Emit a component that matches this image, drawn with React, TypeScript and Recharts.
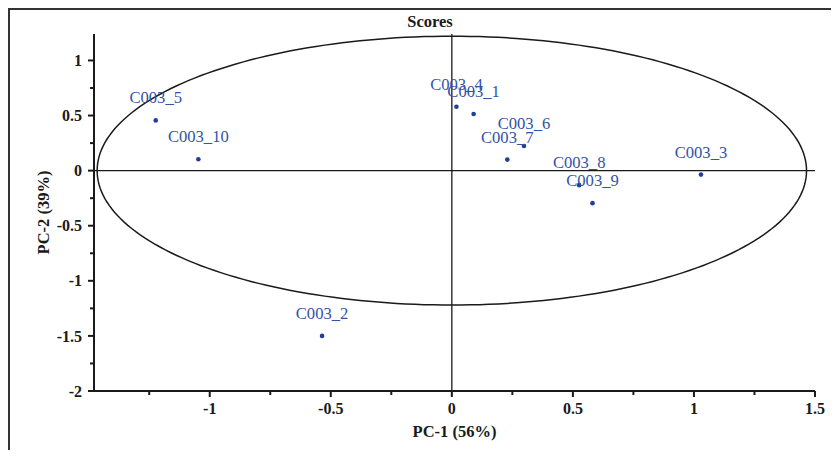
import React from 'react';
import { ScatterChart, Scatter, XAxis, YAxis, ReferenceLine, Customized } from 'recharts';

// PCA scores for each sample
const sampleNames = ['C003_1', 'C003_2', 'C003_3', 'C003_4', 'C003_5', 'C003_6', 'C003_7', 'C003_8', 'C003_9', 'C003_10'];
const pc1Scores = [0.09, -0.536, 1.029, 0.019, -1.223, 0.298, 0.229, 0.526, 0.581, -1.047];
const pc2Scores = [0.514, -1.5, -0.036, 0.58, 0.456, 0.224, 0.1, -0.132, -0.295, 0.103];

// Hotelling ellipse (centre and semi-axes in score units)
const ellipseCenter = [0, 0];
const ellipseRadii = [1.465, 1.22];

const xMajorTicks = [-1, -0.5, 0, 0.5, 1, 1.5];
const xMinorTicks = [-1.25, -0.75, -0.25, 0.25, 0.75, 1.25];
const yMajorTicks = [-2, -1.5, -1, -0.5, 0, 0.5, 1];
const yMinorTicks = [-1.75, -1.25, -0.75, -0.25, 0.25, 0.75];

const X_DOMAIN = [-1.478, 1.5];
const Y_DOMAIN = [-2, 1.24];

const FONT = "'Liberation Serif', 'Times New Roman', serif";
const INK = '#1a1a1a';
const DOT = '#1f3f9a';
const LABEL = '#3352a8';

const scores = sampleNames.map((name, i) => ({ name, x: pc1Scores[i], y: pc2Scores[i] }));

const ellipseOutline = Array.from({ length: 241 }, (_, i) => {
  const t = (i / 240) * 2 * Math.PI;
  return {
    x: ellipseCenter[0] + ellipseRadii[0] * Math.cos(t),
    y: ellipseCenter[1] + ellipseRadii[1] * Math.sin(t),
  };
});

const xTicks = [...xMajorTicks, ...xMinorTicks].sort((a, b) => a - b);
const yTicks = [...yMajorTicks, ...yMinorTicks].sort((a, b) => a - b);

const TICK_OFFSET = 12; // tickSize + tickMargin

const XTick = (props: any) => {
  const { x, y, payload } = props;
  const major = xMajorTicks.includes(payload.value);
  const axisY = y - TICK_OFFSET;
  return (
    <g>
      <line x1={x} x2={x} y1={axisY} y2={axisY + (major ? 6 : 4)} stroke={INK} strokeWidth={2} />
      {major && (
        <text x={x} y={y} dy="0.71em" textAnchor="middle" fontFamily={FONT} fontWeight="bold" fontSize={16} fill={INK}>
          {String(payload.value)}
        </text>
      )}
    </g>
  );
};

const YTick = (props: any) => {
  const { x, y, payload } = props;
  const major = yMajorTicks.includes(payload.value);
  const axisX = x + TICK_OFFSET;
  return (
    <g>
      <line x1={axisX} x2={axisX - (major ? 6 : 4)} y1={y} y2={y} stroke={INK} strokeWidth={2} />
      {major && (
        <text x={x} y={y} dy="0.355em" textAnchor="end" fontFamily={FONT} fontWeight="bold" fontSize={16} fill={INK}>
          {String(payload.value)}
        </text>
      )}
    </g>
  );
};

const SampleDot = (props: any) => {
  const { cx, cy, payload } = props;
  return (
    <g>
      <circle cx={cx} cy={cy} r={2.3} fill={DOT} />
      <text x={cx} y={cy - 17} textAnchor="middle" fontFamily={FONT} fontSize={16.6} fill={LABEL}>
        {payload.name}
      </text>
    </g>
  );
};

const Title = () => (
  <text x={420} y={16.7} textAnchor="middle" fontFamily={FONT} fontWeight="bold" fontSize={16.5} fill={INK}>
    Scores
  </text>
);

export default function App() {
  return (
    <div style={{ width: 828, height: 440, borderLeft: '2px solid #333', borderTop: '2px solid #333' }}>
      <ScatterChart width={828} height={440} margin={{ top: 24, right: 23, bottom: 13, left: 0 }}>
        <XAxis
          type="number"
          dataKey="x"
          domain={X_DOMAIN}
          ticks={xTicks}
          allowDataOverflow
          interval={0}
          height={46}
          tickSize={6}
          tickMargin={6}
          tickLine={false}
          tick={<XTick />}
          axisLine={{ stroke: INK, strokeWidth: 2 }}
          label={{ value: 'PC-1 (56%)', position: 'insideBottom', offset: 0, fontFamily: FONT, fontWeight: 'bold', fontSize: 16.5, fill: INK }}
        />
        <YAxis
          type="number"
          dataKey="y"
          domain={Y_DOMAIN}
          ticks={yTicks}
          allowDataOverflow
          interval={0}
          width={84}
          tickSize={6}
          tickMargin={6}
          tickLine={false}
          tick={<YTick />}
          axisLine={{ stroke: INK, strokeWidth: 2 }}
          label={{
            value: 'PC-2 (39%)',
            angle: -90,
            position: 'insideLeft',
            offset: 33,
            style: { textAnchor: 'middle' },
            fontFamily: FONT,
            fontWeight: 'bold',
            fontSize: 16.5,
            fill: INK,
          }}
        />
        <ReferenceLine x={0} stroke={INK} strokeWidth={1.3} />
        <ReferenceLine y={0} stroke={INK} strokeWidth={1.3} />
        <Scatter
          data={ellipseOutline}
          line={{ stroke: INK, strokeWidth: 1.5 }}
          lineType="joint"
          shape={() => <g />}
          isAnimationActive={false}
        />
        <Scatter data={scores} shape={<SampleDot />} isAnimationActive={false} />
        <Customized component={Title} />
      </ScatterChart>
    </div>
  );
}
